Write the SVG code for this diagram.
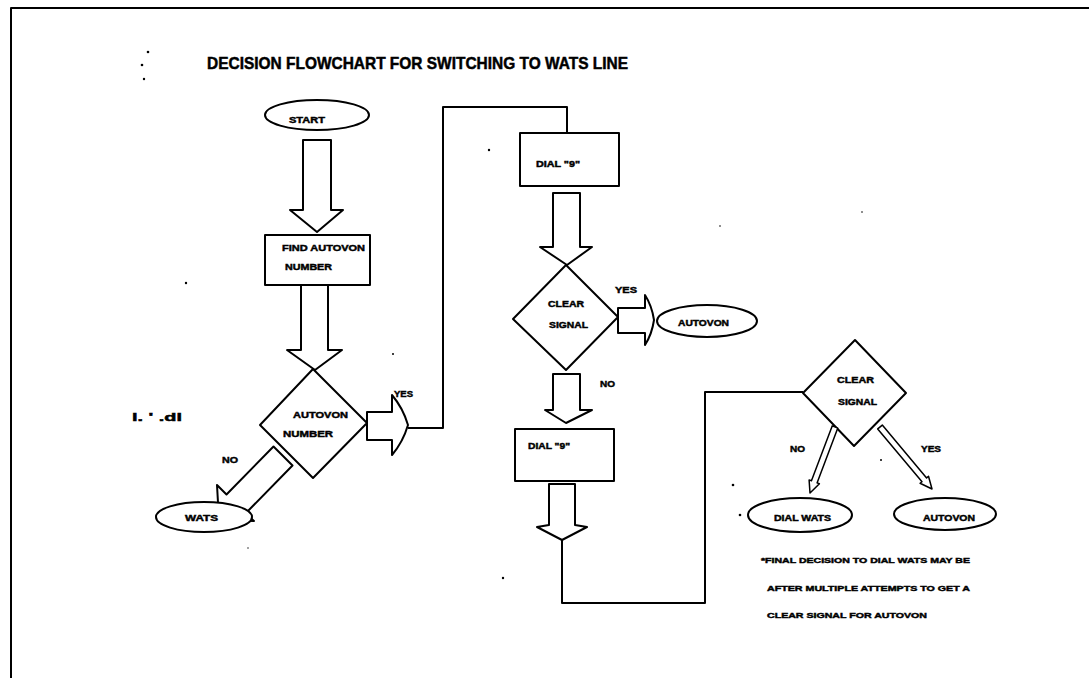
<svg xmlns="http://www.w3.org/2000/svg" width="1089" height="678" viewBox="0 0 1089 678">
<style>
.ln{fill:none;stroke:#000;stroke-width:2;stroke-linejoin:round}
.sh{fill:#fff;stroke:#000;stroke-width:2;stroke-linejoin:round}
.tn{fill:#fff;stroke:#000;stroke-width:1.5;stroke-linejoin:round}
.t{font-family:"Liberation Sans",Arial,sans-serif;font-weight:bold;fill:#000;stroke:#000;stroke-width:0.45;font-size:9px}
.ti{font-family:"Liberation Sans",Arial,sans-serif;font-weight:bold;fill:#000;stroke:#000;stroke-width:0.5;font-size:17px}
.dot{fill:#000}
</style>
<rect width="1089" height="678" fill="#fff"/>
<g id="frame">
<path class="ln" d="M11,678 L11,8 L1089,8"/>
</g>
<text class="ti" x="207" y="69" textLength="421" lengthAdjust="spacingAndGlyphs">DECISION FLOWCHART FOR SWITCHING TO WATS LINE</text>
<g id="specks">
<circle class="dot" cx="148" cy="52" r="1.3"/>
<circle class="dot" cx="142" cy="65" r="1.3"/>
<circle class="dot" cx="144" cy="79" r="1.2"/>
<circle class="dot" cx="186" cy="283" r="1.2"/>
<circle class="dot" cx="393" cy="354" r="1"/>
<circle class="dot" cx="489" cy="150" r="1.2"/>
<circle class="dot" cx="720" cy="226" r="0.8"/>
<circle class="dot" cx="862" cy="212" r="0.8"/>
<circle class="dot" cx="733" cy="485" r="1.3"/>
<circle class="dot" cx="740" cy="515" r="1.3"/>
<circle class="dot" cx="881" cy="460" r="1"/>
<circle class="dot" cx="503" cy="578" r="1.2"/>
<circle class="dot" cx="248" cy="548" r="0.7"/>
<text class="t" x="132" y="421" textLength="50" lengthAdjust="spacingAndGlyphs" style="font-size:11px">l. '  .dl</text>
</g>
<g id="connectors">
<path class="ln" d="M408,428 L443,428 L443,107 L567,107 L567,133"/>
<path class="ln" d="M562,540 L562,603 L705,603 L705,392 L803,392"/>
</g>
<g id="start">
<ellipse class="sh" cx="317" cy="115" rx="52" ry="15"/>
<text class="t" x="289" y="123" textLength="36" lengthAdjust="spacingAndGlyphs">START</text>
</g>
<g id="arrow-start">
<path class="sh" d="M303,140 L331,140 L331,210 L343,210 L317,232 L290,210 L303,210 Z"/>
</g>
<g id="find">
<rect class="sh" x="265" y="235" width="105" height="50"/>
<text class="t" x="282" y="251" textLength="83" lengthAdjust="spacingAndGlyphs">FIND AUTOVON</text>
<text class="t" x="285" y="270" textLength="47" lengthAdjust="spacingAndGlyphs">NUMBER</text>
</g>
<g id="arrow-find">
<path class="sh" d="M301,285 L328,285 L328,350 L342,350 L315,370 L287,350 L301,350 Z"/>
</g>
<g id="autovon-number">
<path class="sh" d="M313,369 L367,423 L313,478 L260,425 Z"/>
<text class="t" x="293" y="418" textLength="55" lengthAdjust="spacingAndGlyphs">AUTOVON</text>
<text class="t" x="283" y="437" textLength="50" lengthAdjust="spacingAndGlyphs">NUMBER</text>
</g>
<g id="arrow-yes1">
<path class="sh" d="M367,412 L392,412 L392,395 Q403,408 408,425 Q403,442 392,455 L392,440 L367,440 Z"/>
<text class="t" x="394" y="397" textLength="19" lengthAdjust="spacingAndGlyphs">YES</text>
</g>
<g id="arrow-no1">
<path class="sh" d="M273.5,446.5 L226.5,494.5 L217,485 L219,520 L254,521 L245.5,513.5 L292.5,465.5 Z"/>
<text class="t" x="222" y="463" textLength="16" lengthAdjust="spacingAndGlyphs">NO</text>
</g>
<g id="wats">
<ellipse class="sh" cx="204" cy="517" rx="48" ry="15"/>
<text class="t" x="185" y="521" textLength="33" lengthAdjust="spacingAndGlyphs">WATS</text>
</g>
<g id="dial1">
<rect class="sh" x="520" y="133" width="99" height="53"/>
<text class="t" x="536" y="167" textLength="44" lengthAdjust="spacingAndGlyphs">DIAL "9"</text>
</g>
<g id="arrow-dial1">
<path class="sh" d="M553,193 L580,193 L580,247 L592,247 L567,265 L540,247 L553,247 Z"/>
</g>
<g id="clear1">
<path class="sh" d="M566,265 L618,317 L566,370 L513,319 Z"/>
<text class="t" x="548" y="307" textLength="36" lengthAdjust="spacingAndGlyphs">CLEAR</text>
<text class="t" x="549" y="328" textLength="39" lengthAdjust="spacingAndGlyphs">SIGNAL</text>
</g>
<g id="arrow-yes2">
<path class="sh" d="M618,308 L645,308 L645,295 Q652,306 654,320 Q652,334 645,345 L645,333 L618,333 Z"/>
<text class="t" x="615" y="293" textLength="22" lengthAdjust="spacingAndGlyphs">YES</text>
</g>
<g id="autovon1">
<ellipse class="sh" cx="707" cy="321" rx="50" ry="16"/>
<text class="t" x="678" y="326" textLength="51" lengthAdjust="spacingAndGlyphs">AUTOVON</text>
</g>
<g id="arrow-no2">
<path class="sh" d="M553,374 L580,374 L580,410 L592,410 L566,423 L545,410 L553,410 Z"/>
<text class="t" x="600" y="387" textLength="15" lengthAdjust="spacingAndGlyphs">NO</text>
</g>
<g id="dial2">
<rect class="sh" x="515" y="429" width="99" height="52"/>
<text class="t" x="528" y="449" textLength="42" lengthAdjust="spacingAndGlyphs">DIAL "9"</text>
</g>
<g id="arrow-dial2">
<path class="sh" d="M549,484 L575,484 L575,525 L587,527 L562,540 L537,527 L549,525 Z"/>
</g>
<g id="clear2">
<path class="sh" d="M855,340 L906,393 L854,446 L803,393 Z"/>
<text class="t" x="837" y="383" textLength="37" lengthAdjust="spacingAndGlyphs">CLEAR</text>
<text class="t" x="838" y="405" textLength="39" lengthAdjust="spacingAndGlyphs">SIGNAL</text>
</g>
<g id="arrow-no3">
<path class="tn" d="M832.2,425.9 L811.45,480.7 L809.1,479.9 L810,493 L819.4,483.7 L817.05,482.9 L837.8,428.1 Z"/>
<text class="t" x="790" y="452" textLength="15" lengthAdjust="spacingAndGlyphs">NO</text>
</g>
<g id="arrow-yes3">
<path class="tn" d="M877.7,428.9 L922,481.7 L920.1,483.3 L932,489 L928.5,476.3 L926.6,477.9 L882.3,425.1 Z"/>
<text class="t" x="921" y="452" textLength="20" lengthAdjust="spacingAndGlyphs">YES</text>
</g>
<g id="dial-wats">
<ellipse class="sh" cx="800" cy="515" rx="52" ry="17"/>
<text class="t" x="774" y="521" textLength="57" lengthAdjust="spacingAndGlyphs">DIAL WATS</text>
</g>
<g id="autovon2">
<ellipse class="sh" cx="945" cy="514" rx="51" ry="16"/>
<text class="t" x="923" y="521" textLength="52" lengthAdjust="spacingAndGlyphs">AUTOVON</text>
</g>
<g id="note">
<text class="t" x="761" y="563" textLength="209" lengthAdjust="spacingAndGlyphs" style="font-size:8px">*FINAL DECISION TO DIAL WATS MAY BE</text>
<text class="t" x="767" y="591" textLength="203" lengthAdjust="spacingAndGlyphs" style="font-size:8px">AFTER MULTIPLE ATTEMPTS TO GET A</text>
<text class="t" x="767" y="618" textLength="160" lengthAdjust="spacingAndGlyphs" style="font-size:8px">CLEAR SIGNAL FOR AUTOVON</text>
</g>
</svg>
